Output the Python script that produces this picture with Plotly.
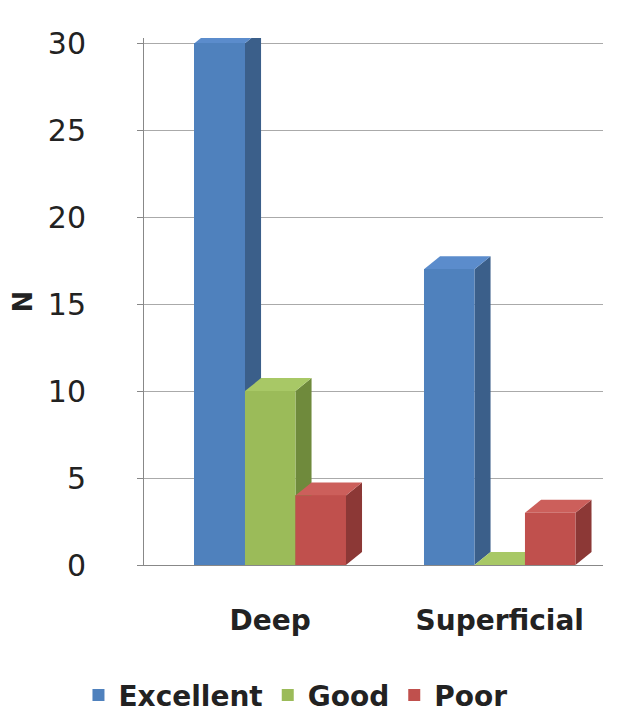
import plotly.graph_objects as go

groups = ["Deep", "Superficial"]
series = ["Excellent", "Good", "Poor"]
excellent = [30, 17]
good = [10, 0]
poor = [4, 3]
values = [excellent, good, poor]

front = ["#4f81bd", "#9bbb59", "#c0504d"]
side = ["#3b5f8a", "#6f8a3c", "#8c3836"]
top = ["#5b8ccc", "#a8c866", "#cc5f5b"]

bw = 0.22
dx, dy = 0.07, 0.75
fig = go.Figure()
for s, name in enumerate(series):
    xs = [g + (s - 1) * bw for g in range(len(groups))]
    fig.add_trace(go.Bar(x=xs, y=values[s], name=name, width=bw,
                         marker=dict(color=front[s], line=dict(width=0))))

# 3D faces, drawn left to right so each front face covers the previous side
shapes = []
for g in range(len(groups)):
    for s in range(len(series)):
        v = values[s][g]
        x = g + (s - 1) * bw
        x0, x1 = x - bw / 2, x + bw / 2
        shapes.append(dict(type="path", layer="above", line=dict(width=0), fillcolor=side[s],
                           path=f"M{x1},0 L{x1+dx},{dy} L{x1+dx},{v+dy} L{x1},{v} Z"))
        shapes.append(dict(type="path", layer="above", line=dict(width=0), fillcolor=top[s],
                           path=f"M{x0},{v} L{x0+dx},{v+dy} L{x1+dx},{v+dy} L{x1},{v} Z"))
        shapes.append(dict(type="rect", layer="above", line=dict(width=0), fillcolor=front[s],
                           x0=x0, x1=x1, y0=0, y1=v))

fig.update_layout(
    width=640, height=724, barmode="overlay", bargap=0,
    margin=dict(l=125, r=45, t=30, b=154),
    plot_bgcolor="white", paper_bgcolor="white",
    font=dict(family="DejaVu Sans", color="#222"),
    shapes=shapes,
    xaxis=dict(range=[-0.55, 1.45], tickvals=[0, 1], ticktext=groups, showgrid=False,
               tickfont=dict(size=28, family="DejaVu Sans", weight="bold"),
               ticklabelstandoff=30,
               showline=True, linecolor="#888", zeroline=False, ticks=""),
    yaxis=dict(range=[0, 30.3], tickvals=[0, 5, 10, 15, 20, 25, 30], showgrid=True,
               gridcolor="#aaa", showline=True, linecolor="#888", ticks="outside",
               ticklen=6, tickcolor="#888", tickfont=dict(size=30), zeroline=False,
               ticklabelstandoff=45,
               title=dict(text="N", font=dict(size=26, weight="bold"), standoff=10)),
    legend=dict(orientation="h", x=0.33, xanchor="center", y=-0.2, yanchor="top",
                font=dict(size=28, weight="bold"), itemwidth=30),
)
fig.write_html("out.html")
